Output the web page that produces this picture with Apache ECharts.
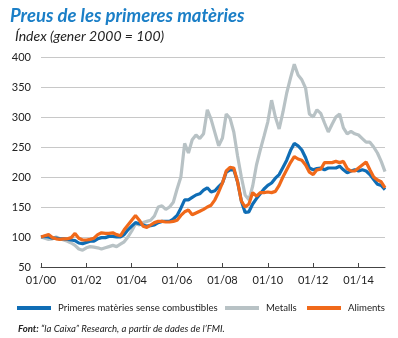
<!DOCTYPE html>
<html><head><meta charset="utf-8">
<script src="https://cdn.jsdelivr.net/npm/echarts@6/dist/echarts.min.js"></script>
<style>html,body{margin:0;padding:0;background:#fff}#c{width:398px;height:338px}</style>
</head><body><div id="c"></div>
<script>
// Bimonthly observations starting January 2000 (Jan, Mar, May, Jul, Sep, Nov)
const startYear = 2000;
const stepMonths = 2;
const seriesNames = ['Primeres matèries sense combustibles', 'Metalls', 'Aliments'];
const nonFuel = [
 100,101,100,98,98,97,
 97,96,95,94,90,89,
 91,93,93,97,99,99,
 101,101,100,100,104,112,
 118,124,122,120,118,119,
 120,124,126,126,126,130,
 136,148,162,162,166,170,
 172,178,182,175,177,184,
 190,208,212,212,192,160,
 141,142,155,164,172,180,
 186,190,198,204,216,228,
 244,256,252,245,232,215,
 212,214,215,212,215,215,
 215,218,212,207,210,212,
 210,212,210,204,196,188,
 186,179
];
const metals = [
 100,98,96,97,100,97,
 95,93,90,86,80,78,
 82,84,83,82,80,82,
 84,86,84,88,92,100,
 110,122,120,124,126,128,
 135,150,152,146,150,158,
 180,200,256,240,262,270,
 264,272,312,296,274,252,
 265,305,298,275,235,200,
 170,162,185,220,245,268,
 292,328,300,280,308,340,
 365,388,370,362,348,305,
 300,312,306,290,275,288,
 300,305,282,272,276,272,
 270,264,258,258,250,240,
 226,209
];
const food = [
 100,102,104,99,97,96,
 97,97,99,106,98,95,
 95,96,98,104,107,106,
 106,107,104,102,112,120,
 128,136,128,118,116,120,
 124,126,126,125,125,126,
 128,136,142,145,137,140,
 143,146,150,153,162,175,
 190,210,216,215,192,160,
 150,155,174,168,174,174,
 175,174,176,186,200,212,
 224,234,230,228,220,208,
 204,212,213,224,224,224,
 226,224,226,214,210,210,
 215,220,225,212,200,195,
 192,182
];
const yTicks = [50, 100, 150, 200, 250, 300, 350, 400];
const xTickMonths = [0, 24, 48, 72, 96, 120, 144, 168];
const colors = ['#0f6db5', '#b8c2c5', '#f0691a'];

function toPoints(arr){ return arr.map((v,i)=>[i*stepMonths, v]); }
function monthLabel(m){ const y = startYear + Math.floor(m/12); const mo = (m%12)+1; return String(mo).padStart(2,'0') + '/' + String(y%100).padStart(2,'0'); }

const FONT = 'Lato, "Open Sans", sans-serif';
const legendBase = {icon:'rect', itemWidth:34, itemHeight:4, itemGap:0, top:298,
  textStyle:{fontFamily:FONT, fontSize:9.6, color:'#222', padding:[0,0,0,2]}};
const chart = echarts.init(document.getElementById('c'), null, {renderer:'canvas'});
chart.setOption({
  animation:false,
  backgroundColor:'#fff',
  textStyle:{fontFamily:FONT},
  title:[
    {text:'Preus de les primeres matèries', left:5, top:2,
     textStyle:{fontFamily:FONT, fontSize:18.5, fontWeight:'bold', fontStyle:'italic', color:'#1b7fc7'}},
    {text:'Índex (gener 2000 = 100)', left:10, top:24,
     textStyle:{fontFamily:FONT, fontSize:14, fontWeight:'normal', fontStyle:'italic', color:'#222'}},
    {text:'{b|Font:} “la Caixa” Research, a partir de dades de l’FMI.', left:13, top:319,
     textStyle:{fontFamily:FONT, fontSize:9.6, fontStyle:'italic', fontWeight:'normal', color:'#222',
       rich:{b:{fontFamily:FONT, fontSize:9.6, fontStyle:'italic', fontWeight:'bold', color:'#222'}}}}
  ],
  legend:[
    Object.assign({}, legendBase, {data:[seriesNames[0]], left:12}),
    Object.assign({}, legendBase, {data:[seriesNames[1]], left:220}),
    Object.assign({}, legendBase, {data:[seriesNames[2]], left:302})
  ],
  grid:{left:41, right:13, top:57, bottom:71},
  xAxis:{
    type:'value', min:0, max:182, interval:24,
    axisLine:{show:true, lineStyle:{color:'#444', width:1}},
    axisTick:{show:true, inside:true, length:4, lineStyle:{color:'#444'}},
    axisLabel:{formatter:(v)=> xTickMonths.includes(v) ? monthLabel(v) : '', fontFamily:FONT, fontSize:11, color:'#222', margin:8, showMaxLabel:false},
    splitLine:{show:false}
  },
  yAxis:{
    type:'value', min:yTicks[0], max:yTicks[yTicks.length-1], interval:50,
    axisLine:{show:false}, axisTick:{show:false},
    axisLabel:{fontFamily:FONT, fontSize:11, color:'#222', margin:10},
    splitLine:{lineStyle:{color:'#c8c8c8', width:1}}
  },
  series:[
    {name:seriesNames[1], type:'line', data:toPoints(metals), showSymbol:false,
     lineStyle:{width:3.2, color:colors[1]}, itemStyle:{color:colors[1]}, z:2},
    {name:seriesNames[0], type:'line', data:toPoints(nonFuel), showSymbol:false,
     lineStyle:{width:3.2, color:colors[0]}, itemStyle:{color:colors[0]}, z:3},
    {name:seriesNames[2], type:'line', data:toPoints(food), showSymbol:false,
     lineStyle:{width:3.2, color:colors[2]}, itemStyle:{color:colors[2]}, z:4}
  ]
});
</script></body></html>
